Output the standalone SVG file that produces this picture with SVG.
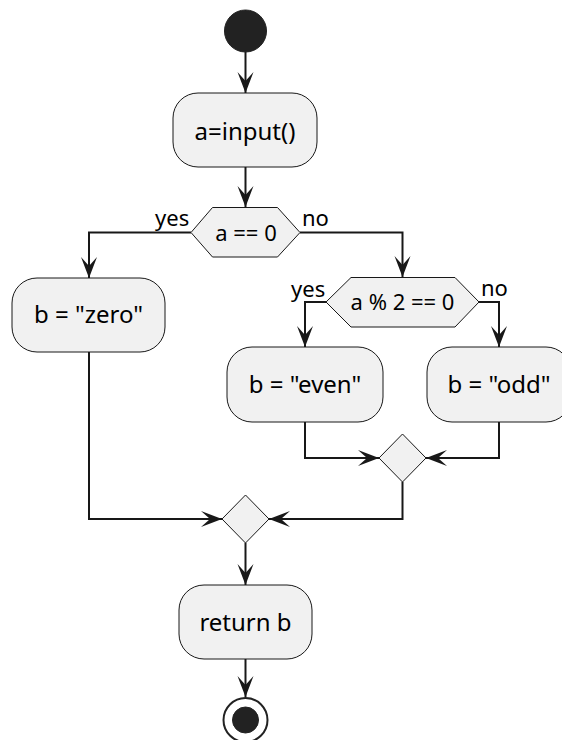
<svg xmlns="http://www.w3.org/2000/svg" width="562" height="740" viewBox="0 0 562 740">
<defs>
<style>
.box{fill:#F1F1F1;stroke:#181818;stroke-width:1}
.ln{fill:none;stroke:#181818;stroke-width:2}
.t{font-family:"Noto Sans","Open Sans",sans-serif;font-size:24px;fill:#000;text-anchor:middle}
.s{font-family:"Noto Sans","Open Sans",sans-serif;font-size:22px;fill:#000;text-anchor:middle}
.lb{font-family:"Noto Sans","Open Sans",sans-serif;font-size:22px;fill:#000}
</style>
<marker id="ah" viewBox="0 0 22 18" refX="21" refY="9" markerWidth="22" markerHeight="18" markerUnits="userSpaceOnUse" orient="auto">
<polygon points="0,1 21,9 0,17 9,9" fill="#181818"/>
</marker>
</defs>
<rect width="562" height="740" fill="#FFFFFF"/>
<g id="connectors">
<line class="ln" x1="245.5" y1="52" x2="245.5" y2="93" marker-end="url(#ah)"/>
<line class="ln" x1="245.5" y1="167" x2="245.5" y2="207" marker-end="url(#ah)"/>
<polyline class="ln" points="191,232.5 89,232.5 89,278" marker-end="url(#ah)"/>
<polyline class="ln" points="300,232.5 402.5,232.5 402.5,277" marker-end="url(#ah)"/>
<polyline class="ln" points="326,302 305,302 305,347" marker-end="url(#ah)"/>
<polyline class="ln" points="479,302 499,302 499,347" marker-end="url(#ah)"/>
<polyline class="ln" points="305,422 305,458 379,458" marker-end="url(#ah)"/>
<polyline class="ln" points="499,422 499,458 426,458" marker-end="url(#ah)"/>
<polyline class="ln" points="89,352 89,519 222,519" marker-end="url(#ah)"/>
<polyline class="ln" points="402.5,482 402.5,519 269,519" marker-end="url(#ah)"/>
<line class="ln" x1="245.5" y1="543" x2="245.5" y2="585" marker-end="url(#ah)"/>
<line class="ln" x1="245.5" y1="659" x2="245.5" y2="697" marker-end="url(#ah)"/>
<text class="lb" x="155" y="226">yes</text>
<text class="lb" x="302" y="226">no</text>
<text class="lb" x="291" y="297">yes</text>
<text class="lb" x="481" y="296">no</text>
</g>
<g id="start">
<circle cx="245.5" cy="31" r="21" fill="#222222" stroke="#222222" stroke-width="1"/>
</g>
<g id="input">
<rect class="box" x="173" y="93" width="144" height="74" rx="25" ry="25"/>
<text class="t" x="245" y="140">a=input()</text>
</g>
<g id="cond1">
<polygon class="box" points="191,232.5 212.5,207.5 277.5,207.5 300,232.5 277.5,257 212.5,257"/>
<text class="s" x="246" y="241">a == 0</text>
</g>
<g id="zero">
<rect class="box" x="12" y="278" width="153" height="74" rx="25" ry="25"/>
<text class="t" x="88.5" y="323">b = "zero"</text>
</g>
<g id="cond2">
<polygon class="box" points="326,302 351,277.5 455,277.5 479,302 455,327 351,327"/>
<text class="s" x="402.5" y="310">a % 2 == 0</text>
</g>
<g id="even">
<rect class="box" x="227" y="347" width="156" height="75" rx="25" ry="25"/>
<text class="t" x="305" y="393">b = "even"</text>
</g>
<g id="odd">
<rect class="box" x="427" y="347" width="144" height="75" rx="25" ry="25"/>
<text class="t" x="499" y="393">b = "odd"</text>
</g>
<g id="merge1">
<polygon class="box" points="402.5,434 426,458 402.5,482 379,458"/>
</g>
<g id="merge2">
<polygon class="box" points="245.5,495 269,519 245.5,543 222,519"/>
</g>
<g id="ret">
<rect class="box" x="179" y="585" width="133" height="74" rx="25" ry="25"/>
<text class="t" x="245.5" y="631">return b</text>
</g>
<g id="end">
<circle cx="245.5" cy="720" r="22" fill="none" stroke="#222222" stroke-width="2"/>
<circle cx="245.5" cy="720" r="13" fill="#222222" stroke="#222222" stroke-width="1"/>
</g>
</svg>
